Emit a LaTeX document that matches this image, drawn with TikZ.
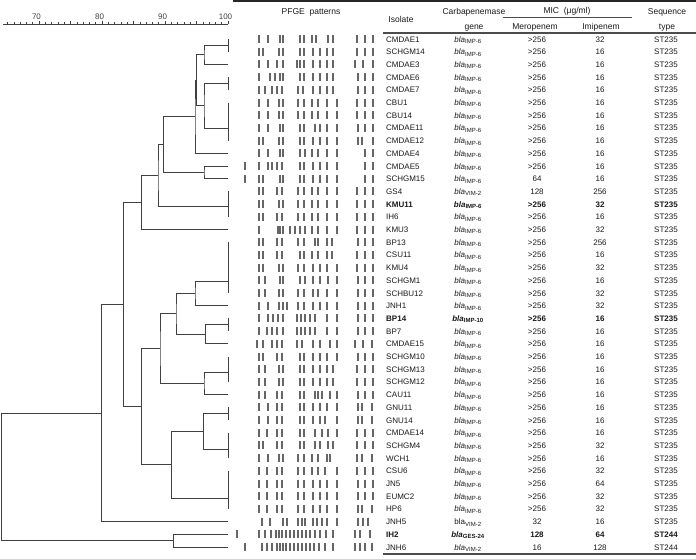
\documentclass[tikz,border=0pt]{standalone}
\usepackage{fontspec}
\setmainfont{Liberation Sans}
\usepackage{xcolor}

\newcommand{\blagene}[1]{\textit{bla}\textsubscript{#1}}

\begin{document}
\begin{tikzpicture}[x=1pt,y=-1pt,
  dendro/.style={draw=black!75,line width=1pt},
  band/.style={draw=black!60,line width=1.6pt},
  hrule/.style={draw=black!70,line width=1.2pt},
  cell/.style={font=\fontsize{8}{9}\selectfont,text=black!90,inner sep=0pt,anchor=base},
  hdr/.style={font=\fontsize{8.5}{10}\selectfont,text=black!90,inner sep=0pt,anchor=base},
  scalenum/.style={font=\fontsize{8}{9}\selectfont,text=black!75,inner sep=0pt,anchor=base}
]
  \useasboundingbox (0,0) rectangle (696,558);

  % similarity scale
  \draw[dendro] (3,24) -- (228,24);
  \foreach \v in {65,...,100}{
    \draw[dendro,line width=.6pt] ({228-(100-\v)*6.3},24) -- ++(0,-2);
  }
  \foreach \v in {70,75,...,100}{
    \draw[dendro,line width=.6pt] ({228-(100-\v)*6.3},24) -- ++(0,-3.5);
  }
  \foreach \v in {70,80,90,100}{
    \node[scalenum] (s\v) at ({225.5-(100-\v)*6.3},19) {\v};
  }

  % header
  \draw[hrule,line width=1.6pt,draw=black!85] (233,1) -- (696,1);
  \node[hdr] (pfge) at (311,14) {PFGE~~patterns};
  \node[hdr] (isolhd) at (401,22) {Isolate};
  \node[hdr] (carbhd) at (474,14) {Carbapenemase};
  \node[hdr] (genehd) at (474,29) {gene};
  \node[hdr] (michd) at (567,13) {MIC~~(μg/ml)};
  \draw[hrule,line width=.8pt] (503,17) -- (632,17);
  \node[hdr] (merohd) at (535,29) {Meropenem};
  \node[hdr] (imihd) at (601,29) {Imipenem};
  \node[hdr] (seqhd) at (667,14) {Sequence};
  \node[hdr] (typehd) at (667,29) {type};
  \draw[hrule] (383,33) -- (696,33);
  \draw[hrule] (383,554) -- (696,554);

  % rows: index, isolate, gene, meropenem, imipenem, ST, weight
  \foreach \i/\iso/\gene/\mero/\imi/\st/\fs in {%
     0/CMDAE1/{\blagene{IMP-6}}/>256/32/ST235/\mdseries,
     1/SCHGM14/{\blagene{IMP-6}}/>256/16/ST235/\mdseries,
     2/CMDAE3/{\blagene{IMP-6}}/>256/16/ST235/\mdseries,
     3/CMDAE6/{\blagene{IMP-6}}/>256/16/ST235/\mdseries,
     4/CMDAE7/{\blagene{IMP-6}}/>256/16/ST235/\mdseries,
     5/CBU1/{\blagene{IMP-6}}/>256/16/ST235/\mdseries,
     6/CBU14/{\blagene{IMP-6}}/>256/16/ST235/\mdseries,
     7/CMDAE11/{\blagene{IMP-6}}/>256/16/ST235/\mdseries,
     8/CMDAE12/{\blagene{IMP-6}}/>256/16/ST235/\mdseries,
     9/CMDAE4/{\blagene{IMP-6}}/>256/16/ST235/\mdseries,
    10/CMDAE5/{\blagene{IMP-6}}/>256/16/ST235/\mdseries,
    11/SCHGM15/{\blagene{IMP-6}}/64/16/ST235/\mdseries,
    12/GS4/{\blagene{VIM-2}}/128/256/ST235/\mdseries,
    13/KMU11/{\blagene{IMP-6}}/>256/32/ST235/\bfseries,
    14/IH6/{\blagene{IMP-6}}/>256/16/ST235/\mdseries,
    15/KMU3/{\blagene{IMP-6}}/>256/32/ST235/\mdseries,
    16/BP13/{\blagene{IMP-6}}/>256/256/ST235/\mdseries,
    17/CSU11/{\blagene{IMP-6}}/>256/16/ST235/\mdseries,
    18/KMU4/{\blagene{IMP-6}}/>256/32/ST235/\mdseries,
    19/SCHGM1/{\blagene{IMP-6}}/>256/16/ST235/\mdseries,
    20/SCHBU12/{\blagene{IMP-6}}/>256/32/ST235/\mdseries,
    21/JNH1/{\blagene{IMP-6}}/>256/32/ST235/\mdseries,
    22/BP14/{\blagene{IMP-10}}/>256/16/ST235/\bfseries,
    23/BP7/{\blagene{IMP-6}}/>256/16/ST235/\mdseries,
    24/CMDAE15/{\blagene{IMP-6}}/>256/16/ST235/\mdseries,
    25/SCHGM10/{\blagene{IMP-6}}/>256/16/ST235/\mdseries,
    26/SCHGM13/{\blagene{IMP-6}}/>256/16/ST235/\mdseries,
    27/SCHGM12/{\blagene{IMP-6}}/>256/16/ST235/\mdseries,
    28/CAU11/{\blagene{IMP-6}}/>256/16/ST235/\mdseries,
    29/GNU11/{\blagene{IMP-6}}/>256/16/ST235/\mdseries,
    30/GNU14/{\blagene{IMP-6}}/>256/16/ST235/\mdseries,
    31/CMDAE14/{\blagene{IMP-6}}/>256/16/ST235/\mdseries,
    32/SCHGM4/{\blagene{IMP-6}}/>256/32/ST235/\mdseries,
    33/WCH1/{\blagene{IMP-6}}/>256/16/ST235/\mdseries,
    34/CSU6/{\blagene{IMP-6}}/>256/32/ST235/\mdseries,
    35/JN5/{\blagene{IMP-6}}/>256/64/ST235/\mdseries,
    36/EUMC2/{\blagene{IMP-6}}/>256/32/ST235/\mdseries,
    37/HP6/{\blagene{IMP-6}}/>256/32/ST235/\mdseries,
    38/JNH5/{bla\textsubscript{VIM-2}}/32/16/ST235/\mdseries,
    39/IH2/{\blagene{GES-24}}/128/64/ST244/\bfseries,
    40/JNH6/{\blagene{VIM-2}}/16/128/ST244/\mdseries%
  }{
    \node[cell,anchor=base west] (iso\i) at (386,{42+12.7*\i}) {\fs\iso};
    \node[cell] (gene\i) at (468,{42+12.7*\i}) {\fs\gene};
    \node[cell] (mero\i) at (537,{42+12.7*\i}) {\fs\mero};
    \node[cell] (imi\i) at (600,{42+12.7*\i}) {\fs\imi};
    \node[cell] (st\i) at (666,{42+12.7*\i}) {\fs\st};
  }

  % PFGE bands: row index / band positions
  \foreach \i/\lanes in {%
     0/{259,268,280,283,300,304,312,316,328,333,357,365,373},
     1/{259,263,279,283,300,304,313,320,327,333,357,365,373},
     2/{259,268,277,283,297,300,304,313,320,327,333,355,363,373},
     3/{259,270,275,280,283,300,304,313,320,327,333,358,365,373},
     4/{259,265,272,277,282,298,303,313,320,327,333,358,365,373},
     5/{259,268,279,283,298,304,312,318,327,337,357,365,373},
     6/{259,268,279,283,298,304,312,318,327,337,357,365,373},
     7/{259,268,280,283,300,304,315,320,327,337,358,365,373},
     8/{259,263,279,283,300,304,313,320,327,337,358,362,373},
     9/{259,268,280,283,300,305,312,318,327,337,365,373},
    10/{245,259,268,272,277,282,300,304,313,320,327,337,365,373},
    11/{245,259,263,280,283,300,304,313,320,327,337,365,373},
    12/{259,263,277,282,298,304,312,318,327,337,357,365,373},
    13/{259,263,279,283,298,304,312,318,327,337,357,365,373},
    14/{259,263,277,282,298,304,312,318,327,337,357,365,373},
    15/{259,278,280,283,290,295,300,305,312,318,327,337,357,365,373},
    16/{259,263,277,282,298,304,315,318,327,332,358,365,373},
    17/{259,263,277,282,300,304,312,318,327,332,357,365,373},
    18/{259,263,279,283,298,304,313,320,327,337,357,365,373},
    19/{259,265,280,283,300,305,313,320,328,337,358,365,373},
    20/{259,265,279,283,298,304,313,318,327,337,358,365,373},
    21/{259,268,279,283,287,298,304,313,320,327,337,358,365,373},
    22/{259,268,273,278,283,297,301,305,310,315,327,337,358,365,373},
    23/{259,267,272,277,283,297,301,305,310,315,327,337,358,365,373},
    24/{257,263,272,277,282,297,302,313,320,330,337,355,363,372},
    25/{259,263,277,282,300,304,313,320,327,337,358,365,373},
    26/{259,265,279,283,300,304,313,320,327,333,357,365,373},
    27/{259,265,279,283,300,304,313,320,327,333,357,365,373},
    28/{259,265,277,282,300,304,315,318,322,330,337,358,365,373},
    29/{259,268,277,282,300,304,313,320,327,337,358,362,372},
    30/{259,268,277,282,300,304,313,320,325,337,358,362,372},
    31/{259,267,277,282,300,304,315,322,328,337,357,365,373},
    32/{259,263,277,282,300,304,315,320,328,333,357,365,373},
    33/{259,268,279,283,298,304,312,318,327,330,357,362,372},
    34/{259,267,277,282,298,304,312,318,325,337,357,365,373},
    35/{259,267,277,282,298,304,313,320,327,337,358,365,373},
    36/{259,267,277,282,298,304,313,320,327,337,358,365,373},
    37/{259,267,277,282,298,304,313,320,327,337,358,362,372},
    38/{262,270,283,287,298,302,305,313,317,322,327,337,358,363,368},
    39/{237,259,265,271,276,279,282,286,290,294,298,302,306,310,315,320,326,333,355,360,370},
    40/{245,262,267,272,277,280,283,286,290,294,298,302,306,310,314,319,325,333,355,360,365,372}%
  }{
    \foreach \b in \lanes
      \draw[band] (\b,{39+12.7*\i-4}) -- (\b,{39+12.7*\i+4});
  }

  % dendrogram: leaf ends at 100 %
  \foreach \n/\y in {gA/45,lf2/64.4,gB/83.5,gC/128.3,lf9/153.3,lf10/166,
      lf11/178.7,gD/206.7,lf15/229.5,gE/281,lf21/305.7,gF/324.8,lf24/343.8,
      gG/372.7,lf28/394.6,gH/413.6,gI/449,gJ/498.3,lf38/521.6,lf39/534.3,lf40/547}
    \coordinate (\n) at (228,\y);
  % identical patterns
  \foreach \a/\b in {0/1,3/4,5/8,12/14,16/20,22/23,25/27,29/30,31/33,34/37}
    \draw[dendro] (228,{39+12.7*\a}) -- (228,{39+12.7*\b});
  % clusters
  \coordinate (n1) at (204,54.7);
  \coordinate (n2) at (204,105.9);
  \coordinate (n3) at (196.5,80.3);
  \coordinate (n4) at (195,116.8);
  \coordinate (n5) at (204,172.4);
  \coordinate (n6) at (163.3,144.6);
  \coordinate (n7) at (158,175.7);
  \coordinate (n8) at (141.7,202.6);
  \coordinate (n9) at (195,293.4);
  \coordinate (n10) at (205.7,334.3);
  \coordinate (n11) at (176,313.9);
  \coordinate (n12) at (204,383.7);
  \coordinate (n13) at (160,348.8);
  \coordinate (n14) at (203.3,431.3);
  \coordinate (n15) at (171.7,464.8);
  \coordinate (n16) at (141.7,406.8);
  \coordinate (n17) at (123.3,304.7);
  \coordinate (n18) at (101.7,413.2);
  \coordinate (n19) at (173.3,540.7);
  \coordinate (root) at (1.7,477);
  \foreach \p/\a/\b in {n1/gA/lf2,n2/gB/gC,n3/n1/n2,n4/n3/lf9,n5/lf10/lf11,
      n6/n4/n5,n7/n6/gD,n8/n7/lf15,n9/gE/lf21,n10/gF/lf24,n11/n9/n10,
      n12/gG/lf28,n13/n11/n12,n14/gH/gI,n15/n14/gJ,n16/n13/n15,n17/n8/n16,
      n18/n17/lf38,n19/lf39/lf40,root/n18/n19}
    \draw[dendro] (\a) -| (\p) |- (\b);
\end{tikzpicture}
\end{document}
